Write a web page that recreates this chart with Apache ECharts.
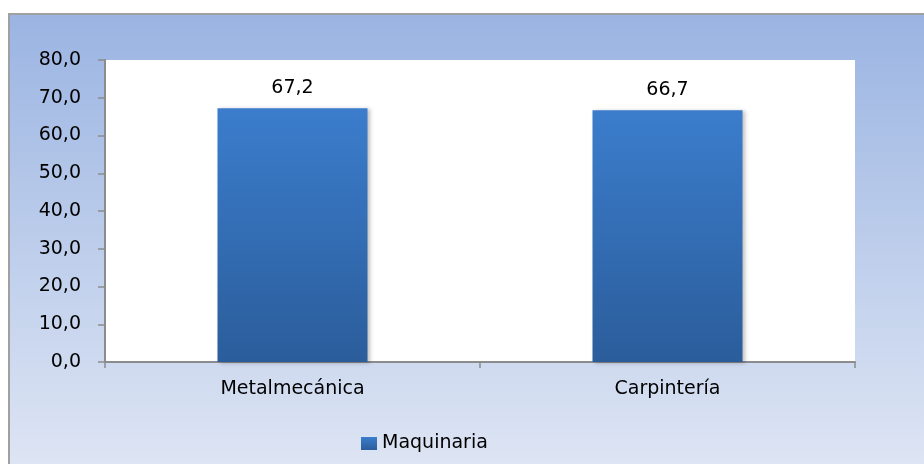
<!DOCTYPE html>
<html>
<head>
<meta charset="utf-8">
<script src="https://cdn.jsdelivr.net/npm/echarts@6/dist/echarts.min.js"></script>
<style>
  html, body { margin: 0; padding: 0; background: #fff; }
  #chart { width: 924px; height: 464px; }
</style>
</head>
<body>
<div id="chart"></div>
<script>
var categories = ["Metalmecánica", "Carpintería"];
var seriesName = "Maquinaria";
var values = [67.2, 66.7];

var fmt = function (v) { return Number(v).toFixed(1).replace(".", ","); };

var myChart = echarts.init(document.getElementById("chart"));

var option = {
  animation: false,
  textStyle: { fontFamily: "'DejaVu Sans', sans-serif" },
  graphic: [
    {
      type: "rect",
      z: -10,
      shape: { x: 9, y: 14, width: 930, height: 460 },
      style: {
        fill: new echarts.graphic.LinearGradient(0, 0, 0, 1, [
          { offset: 0, color: "#9ab4e2" },
          { offset: 1, color: "#dfe6f4" }
        ]),
        stroke: "#a0a0a0",
        lineWidth: 2
      }
    }
  ],
  grid: {
    left: 105, right: 69, top: 60, bottom: 102,
    show: true, backgroundColor: "#ffffff", borderWidth: 0
  },
  legend: {
    data: [{ name: seriesName, icon: "rect" }],
    top: 429,
    left: 356,
    itemWidth: 16,
    itemHeight: 13,
    itemGap: 4,
    itemStyle: { shadowBlur: 0, shadowOffsetX: 0, shadowOffsetY: 0 },
    textStyle: { fontSize: 19, color: "#000" }
  },
  xAxis: {
    type: "category",
    data: categories,
    axisLine: { lineStyle: { color: "#8c8c8c", width: 2 } },
    axisTick: { show: true, length: 6, lineStyle: { color: "#8c8c8c", width: 1.5 } },
    axisLabel: { fontSize: 19, color: "#000", margin: 18 }
  },
  yAxis: {
    type: "value",
    min: 0, max: 80, interval: 10,
    splitLine: { show: false },
    axisLine: { show: true, lineStyle: { color: "#8c8c8c", width: 2 } },
    axisTick: { show: true, length: 7, lineStyle: { color: "#8c8c8c", width: 1.5 } },
    axisLabel: { fontSize: 19, color: "#000", margin: 24, formatter: fmt }
  },
  series: [
    {
      name: seriesName,
      type: "bar",
      data: values,
      barWidth: "40%",
      itemStyle: {
        color: new echarts.graphic.LinearGradient(0, 0, 0, 1, [
          { offset: 0, color: "#3b7dcc" },
          { offset: 1, color: "#2b5d9b" }
        ]),
        shadowColor: "rgba(0,0,0,0.25)",
        shadowBlur: 4,
        shadowOffsetX: 2,
        shadowOffsetY: 1
      },
      label: {
        show: true,
        position: "top",
        distance: 11,
        fontSize: 19,
        color: "#000",
        formatter: function (p) { return fmt(p.value); }
      }
    }
  ]
};

myChart.setOption(option);
</script>
</body>
</html>
